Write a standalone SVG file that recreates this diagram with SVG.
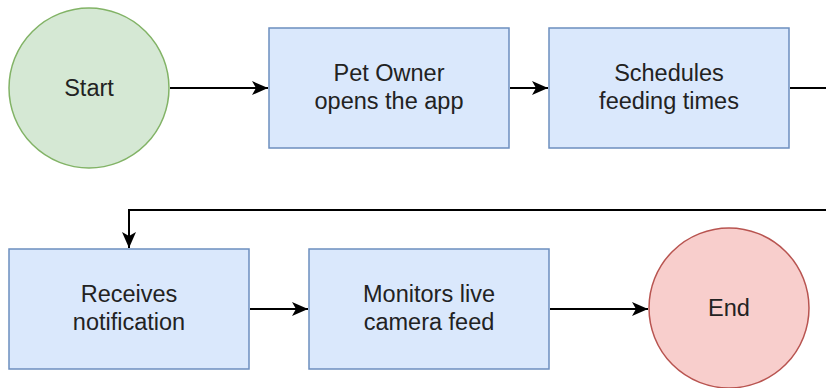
<svg xmlns="http://www.w3.org/2000/svg" width="826" height="388" viewBox="0 0 826 388">
<style>
text{font-family:"Liberation Sans",Arial,sans-serif;font-size:23.5px;fill:#222;text-anchor:middle}
.box{fill:#dae8fc;stroke:#6c8ebf;stroke-width:1.5}
.start{fill:#d5e8d4;stroke:#82b366;stroke-width:1.5}
.end{fill:#f8cecc;stroke:#b85450;stroke-width:1.5}
.edge{fill:none;stroke:#000;stroke-width:2}
</style>
<defs>
<marker id="arr" markerWidth="16" markerHeight="14" refX="16" refY="7" orient="auto" markerUnits="userSpaceOnUse" viewBox="0 0 16 14">
<path d="M0,0 L16,7 L0,14 L4,7 Z" fill="#000"/>
</marker>
</defs>
<g id="connectors">
<path class="edge" d="M170,88 H268" marker-end="url(#arr)"/>
<path class="edge" d="M510,88 H548" marker-end="url(#arr)"/>
<path class="edge" d="M790,88 H826"/>
<path class="edge" d="M826,210 H129 V248" marker-end="url(#arr)"/>
<path class="edge" d="M250,309 H308" marker-end="url(#arr)"/>
<path class="edge" d="M550,309 H648" marker-end="url(#arr)"/>
</g>
<g id="start"><circle class="start" cx="89" cy="88" r="80"/><text x="89" y="96">Start</text></g>
<g id="open-app"><rect class="box" x="269" y="28" width="240" height="120"/><text x="389" y="81">Pet Owner</text><text x="389" y="109">opens the app</text></g>
<g id="schedule"><rect class="box" x="549" y="28" width="240" height="120"/><text x="669" y="81">Schedules</text><text x="669" y="109">feeding times</text></g>
<g id="notification"><rect class="box" x="9" y="249" width="240" height="120"/><text x="129" y="302">Receives</text><text x="129" y="330">notification</text></g>
<g id="monitor"><rect class="box" x="309" y="249" width="240" height="120"/><text x="429" y="302">Monitors live</text><text x="429" y="330">camera feed</text></g>
<g id="end"><circle class="end" cx="729" cy="308" r="80"/><text x="729" y="316">End</text></g>
</svg>
